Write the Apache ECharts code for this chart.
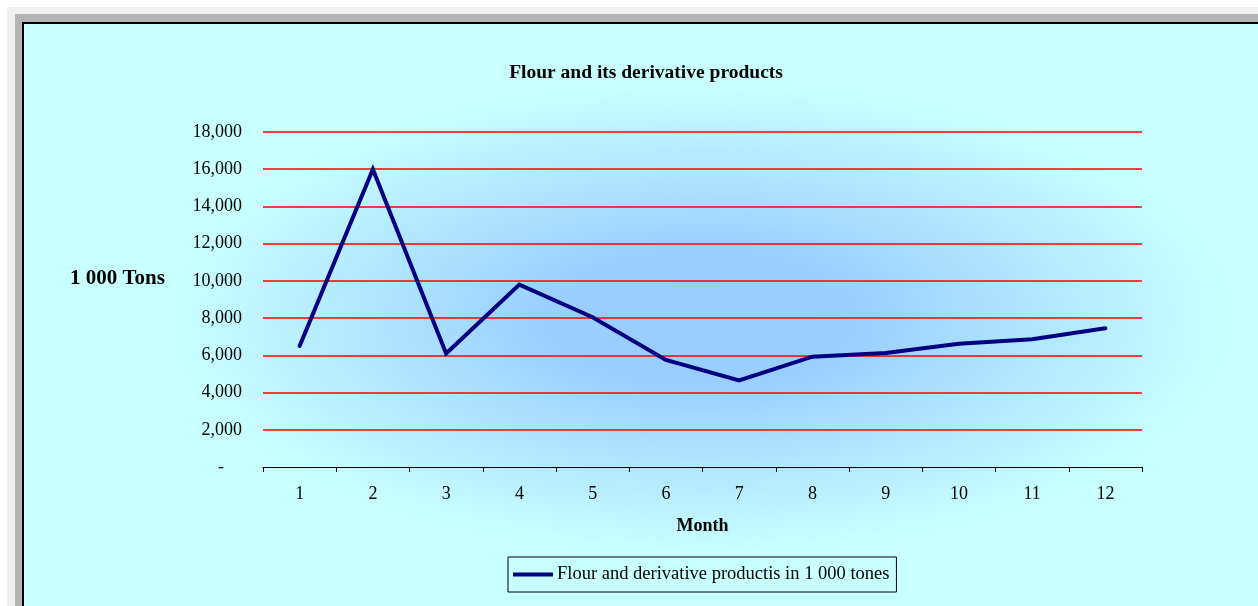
<!DOCTYPE html>
<html>
<head>
<meta charset="utf-8">
<style>
  html, body { margin: 0; padding: 0; background: #ffffff; }
  #chart { width: 1258px; height: 606px; }
</style>
<script src="https://cdn.jsdelivr.net/npm/echarts@6/dist/echarts.min.js"></script>
</head>
<body>
<div id="chart"></div>
<script>
// Monthly output of flour and derivative products, in thousand tons
const months = ['1', '2', '3', '4', '5', '6', '7', '8', '9', '10', '11', '12'];
const flourOutput = [6500, 16000, 6100, 9800, 8050, 5750, 4650, 5930, 6130, 6620, 6870, 7450];
const seriesName = 'Flour and derivative productis in 1 000 tones';

const serif = '"Liberation Serif", "DejaVu Serif", serif';
const chart = echarts.init(document.getElementById('chart'), null, { renderer: 'canvas' });

chart.setOption({
  backgroundColor: '#ffffff',
  animation: false,
  graphic: [
    // sheet frame around the chart area
    { type: 'rect', z: -100, shape: { x: 7, y: 7, width: 1260, height: 610 }, style: { fill: '#f0f0f0' } },
    { type: 'rect', z: -100, shape: { x: 15, y: 14, width: 1260, height: 610 }, style: { fill: '#b4b4b4' } },
    { type: 'rect', z: -100, shape: { x: 22, y: 22, width: 1260, height: 610 }, style: { fill: '#000000' } },
    { type: 'rect', z: -100, shape: { x: 24, y: 24, width: 1260, height: 610 }, style: { fill: '#c8ffff' } },
    // soft blue glow behind the plot
    {
      type: 'rect', z: -99,
      position: [702, 318], scaleX: 2.25, scaleY: 1,
      shape: { x: -235, y: -235, width: 470, height: 470 },
      style: {
        fill: {
          type: 'radial', x: 0.5, y: 0.5, r: 0.5,
          colorStops: [
            { offset: 0, color: '#99ccff' },
            { offset: 0.3, color: '#9bcfff' },
            { offset: 1, color: 'rgba(200,255,255,1)' }
          ]
        }
      }
    },
    {
      type: 'text', left: 70, top: 268,
      style: { text: '1 000 Tons', font: 'bold 21px ' + serif, fill: '#000000' }
    }
  ],
  title: {
    text: 'Flour and its derivative products',
    left: 646, top: 63, textAlign: 'center', padding: 0,
    textStyle: { fontFamily: serif, fontWeight: 'bold', fontSize: 19.5, color: '#000000' }
  },
  legend: {
    left: 508, top: 557,
    padding: [8, 7, 8, 5],
    borderColor: '#000000', borderWidth: 1,
    itemWidth: 40, itemHeight: 18, itemGap: 4,
    textStyle: { fontFamily: serif, fontSize: 18.5, color: '#000000', padding: [0, 0, 0, -1] },
    data: [{ name: seriesName, icon: 'path://M0,7 L40,7 L40,11 L0,11 Z' }]
  },
  grid: { left: 263, right: 116, top: 132, bottom: 139, containLabel: false },
  xAxis: {
    type: 'category',
    data: months,
    boundaryGap: true,
    name: 'Month',
    nameLocation: 'middle',
    nameGap: 50,
    nameTextStyle: { fontFamily: serif, fontWeight: 'bold', fontSize: 18, color: '#000000' },
    axisLine: { lineStyle: { color: '#000000', width: 1 } },
    axisTick: { show: true, length: 5, lineStyle: { color: '#000000' } },
    axisLabel: { fontFamily: serif, fontSize: 18, color: '#000000', margin: 18 },
    splitLine: { show: false }
  },
  yAxis: {
    type: 'value',
    min: 0, max: 18000, interval: 2000,
    axisLine: { show: false },
    axisTick: { show: false },
    axisLabel: {
      fontFamily: serif, fontSize: 18, color: '#000000', margin: 21,
      formatter: function (v) {
        return v === 0 ? '{dash|-}' : v.toLocaleString('en-US');
      },
      rich: { dash: { fontFamily: serif, fontSize: 18, color: '#000000', padding: [0, 18, 0, 0] } }
    },
    splitLine: { showMinLine: false, lineStyle: { color: '#ff0000', width: 1.5 } }
  },
  series: [{
    name: seriesName,
    type: 'line',
    data: flourOutput,
    symbol: 'none',
    lineStyle: { color: '#000080', width: 4, cap: 'round', join: 'miter' },
    itemStyle: { color: '#000080' }
  }]
});
</script>
</body>
</html>
